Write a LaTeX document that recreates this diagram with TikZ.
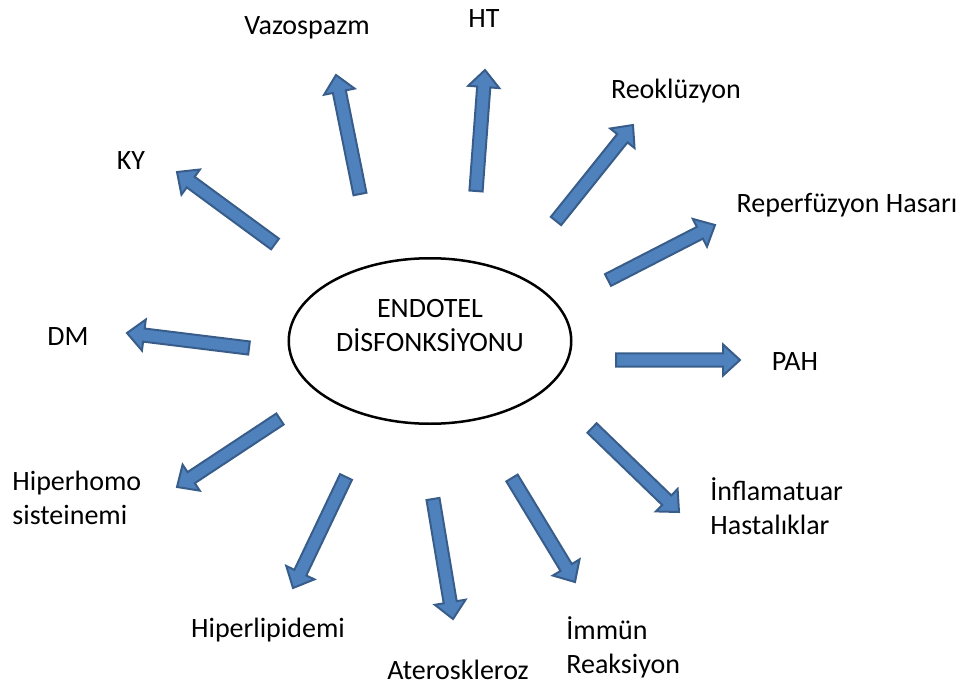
\documentclass[tikz,border=0pt]{standalone}
\usepackage{fontspec}
\setmainfont{Carlito}
\usepackage{tikz}
\usetikzlibrary{positioning, calc, shapes.geometric}

\definecolor{arrowFill}{RGB}{79,129,189}
\definecolor{arrowLine}{RGB}{56,93,138}

% block arrow from tail #1 to tip #2
\newcommand{\blockarrow}[2]{%
  \path ($(#2)!8.5pt!(#1)$) coordinate (hb);
  \draw[blockArrow] ($(#1)!3.3pt!90:(#2)$) -- ($(hb)!3.3pt!-90:(#1)$) -- ($(hb)!7.8pt!-90:(#1)$) -- (#2)
    -- ($(hb)!7.8pt!90:(#1)$) -- ($(hb)!3.3pt!90:(#1)$) -- ($(#1)!3.3pt!-90:(#2)$) -- cycle;}

\begin{document}
\begin{tikzpicture}[
        x=0.5pt, y=-0.5pt,
        every node/.style={font=\fontsize{14pt}{17pt}\selectfont},
        label/.style={inner sep=0pt, anchor=base},
        twoLine/.style={inner sep=0pt, anchor=west, align=left},
        centerNode/.style={draw, ellipse, line width=1.25pt, minimum width=141.25pt, minimum height=82.75pt},
        blockArrow/.style={fill=arrowFill, draw=arrowLine, line width=1pt}
    ]
        \useasboundingbox (0,0) rectangle (966,686);

        % Nodes
        \node[centerNode] (endotel) at (430,341) {};
        \node[inner sep=0pt, align=center] (endotelText) at (430,326) {ENDOTEL\\DİSFONKSİYONU};

        \node[label] (vazo) at (307,34) {Vazospazm};
        \node[label] (ht) at (484,27) {HT};
        \node[label] (reok) at (676,98) {Reoklüzyon};
        \node[label] (reperf) at (847,212) {Reperfüzyon Hasarı};
        \node[label] (pah) at (795,370) {PAH};
        \node[twoLine] (infl) at (710,506) {İnflamatuar\\Hastalıklar};
        \node[twoLine] (immun) at (566,647) {İmmün\\Reaksiyon};
        \node[label] (atero) at (458,679) {Ateroskleroz};
        \node[label] (lipid) at (268,637) {Hiperlipidemi};
        \node[twoLine] (homo) at (12,498) {Hiperhomo\\sisteinemi};
        \node[label] (dm) at (68,345) {DM};
        \node[label] (ky) at (131,169) {KY};

        % Arrow ends
        \coordinate (ky-s) at (275,244);    \coordinate (ky-e) at (177,172);
        \coordinate (vazo-s) at (360,194);  \coordinate (vazo-e) at (336,75);
        \coordinate (ht-s) at (476,191);    \coordinate (ht-e) at (485,70);
        \coordinate (reok-s) at (556,221);  \coordinate (reok-e) at (633,125);
        \coordinate (reperf-s) at (608,280); \coordinate (reperf-e) at (715,225);
        \coordinate (pah-s) at (616,360);   \coordinate (pah-e) at (740,360);
        \coordinate (infl-s) at (592,428);  \coordinate (infl-e) at (679,512);
        \coordinate (immun-s) at (512,478); \coordinate (immun-e) at (575,582);
        \coordinate (atero-s) at (433,499); \coordinate (atero-e) at (453,619);
        \coordinate (lipid-s) at (346,477); \coordinate (lipid-e) at (293,588);
        \coordinate (homo-s) at (280,419);  \coordinate (homo-e) at (177,487);
        \coordinate (dm-s) at (249,348);    \coordinate (dm-e) at (127,333);

        % Arrows
        \blockarrow{ky-s}{ky-e}
        \blockarrow{vazo-s}{vazo-e}
        \blockarrow{ht-s}{ht-e}
        \blockarrow{reok-s}{reok-e}
        \blockarrow{reperf-s}{reperf-e}
        \blockarrow{pah-s}{pah-e}
        \blockarrow{infl-s}{infl-e}
        \blockarrow{immun-s}{immun-e}
        \blockarrow{atero-s}{atero-e}
        \blockarrow{lipid-s}{lipid-e}
        \blockarrow{homo-s}{homo-e}
        \blockarrow{dm-s}{dm-e}
    \end{tikzpicture}
\end{document}
